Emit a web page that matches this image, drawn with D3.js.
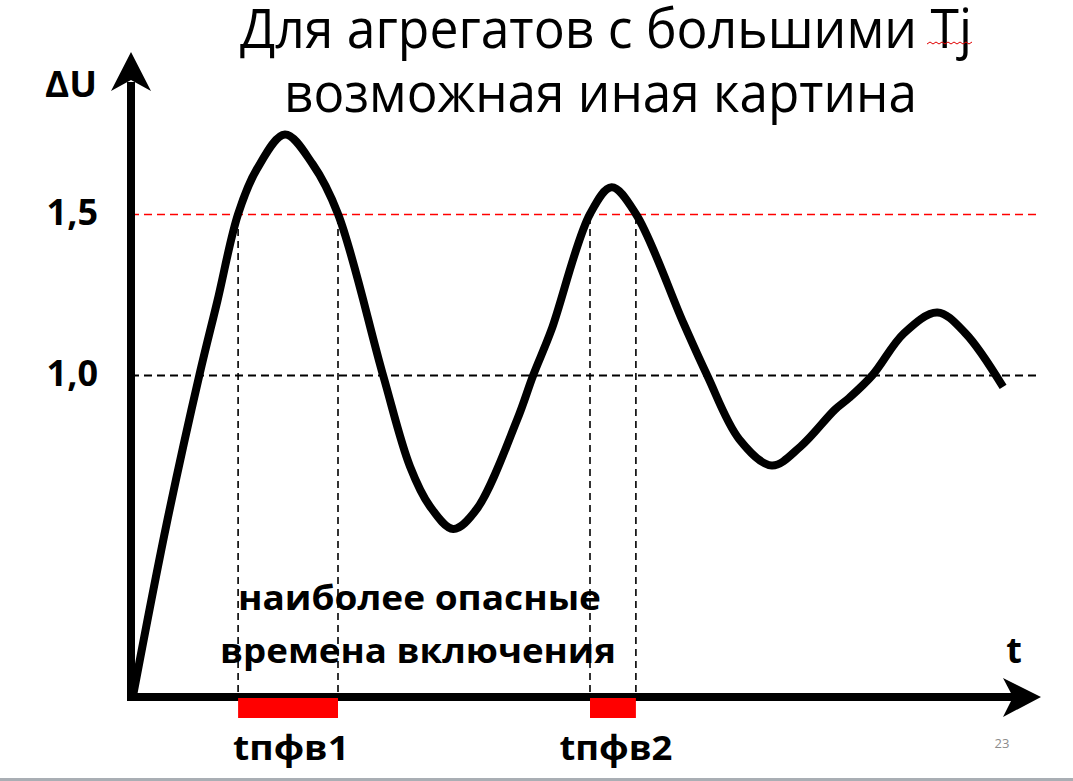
<!DOCTYPE html>
<html>
<head>
<meta charset="utf-8">
<script src="https://cdn.jsdelivr.net/npm/d3@7"></script>
<style>
  html, body { margin: 0; padding: 0; background: #fff; }
  svg { display: block; }
  .bold { font-family: "Open Sans", "DejaVu Sans", sans-serif; font-weight: 700; fill: #000; }
  .title { font-family: "Open Sans", "DejaVu Sans", sans-serif; font-weight: 400; fill: #000; }
</style>
</head>
<body>
<div id="chart"></div>
<script>
// curve: t in arbitrary time units, u = ΔU
var tData = [0.2, 3.9, 7.6, 9.6, 11.9, 14.0, 17.1, 20.2, 23.0, 28.0, 31.0, 33.2, 35.8, 38.4,
             42.9, 44.7, 46.7, 51.0, 53.4, 56.1, 61.4, 64.0, 67.6, 71.2, 74.4, 78.2, 79.8, 82.4,
             85.9, 89.6, 92.7, 96.9]
var uData = [0.0, 0.53, 1.0, 1.23, 1.5, 1.64, 1.747, 1.654, 1.5, 1.0, 0.716, 0.593, 0.522, 0.583,
             0.861, 1.0, 1.139, 1.5, 1.583, 1.5, 1.16, 1.0, 0.80, 0.719, 0.778, 0.892, 0.929, 1.0,
             1.13, 1.194, 1.13, 0.963]

var yTicks       = [1.0, 1.5],
    yTickLabels  = ["1,0", "1,5"],
    crossTimes   = [11.9, 23.0, 51.0, 56.1],   // where the curve crosses 1,5
    windowLabels = ["tпфв1", "tпфв2"],
    titleLines   = ["Для агрегатов с большими Tj", "возможная иная картина"],
    noteLines    = ["наиболее опасные", "времена включения"]

var W = 1073, H = 781

var svg = d3.select("#chart").append("svg")
  .attr("width", W)
  .attr("height", H)

var x = d3.scaleLinear().domain([0, 100]).range([131, 1031]),
    y = d3.scaleLinear().domain([0, 1]).range([697, 375])

var pts = tData.map((t, i) => ({ t: t, u: uData[i] }))

// title
svg.selectAll("text.title")
  .data(titleLines)
  .enter().append("text")
  .attr("class", "title")
  .attr("x", (d, i) => i == 0 ? 240 : 284)
  .attr("y", (d, i) => i == 0 ? 48 : 112)
  .attr("font-size", 54)
  .attr("textLength", (d, i) => i == 0 ? 732 : 633)
  .attr("lengthAdjust", "spacingAndGlyphs")
  .text(d => d)

// spell-check squiggle under "Tj"
var sq = d3.path()
sq.moveTo(927, 44)
for (var k = 0; k < 15; k++) sq.lineTo(930 + k * 3, k % 2 ? 44 : 42)
svg.append("path").attr("d", sq.toString()).attr("fill", "none")
  .attr("stroke", "#e00000").attr("stroke-width", 1)

// horizontal dashed levels via the axis generator
var yAxis = d3.axisLeft(y)
  .tickValues(yTicks)
  .tickFormat((d, i) => yTickLabels[i])
  .tickSize(-(x(100) + 5 - x(0)))
  .tickPadding(33)

var gy = svg.append("g")
  .attr("transform", "translate(" + x(0) + ",0)")
  .call(yAxis)

gy.select(".domain").remove()
gy.selectAll(".tick line")
  .attr("stroke", d => d == 1.5 ? "#ff0000" : "#000")
  .attr("stroke-width", d => d == 1.5 ? 1.6 : 1.8)
  .attr("stroke-dasharray", "8,5")
gy.selectAll(".tick text")
  .attr("class", "bold")
  .attr("font-size", 36)
  .attr("dy", "0.3em")

// vertical dashed drops from the crossings
svg.selectAll("line.drop")
  .data(crossTimes)
  .enter().append("line")
  .attr("class", "drop")
  .attr("x1", d => x(d)).attr("x2", d => x(d))
  .attr("y1", y(1.5) + 3).attr("y2", y(0))
  .attr("stroke", "#000")
  .attr("stroke-width", 1.6)
  .attr("stroke-dasharray", "7,5")

// curve
var line = d3.line()
  .x(d => x(d.t))
  .y(d => y(d.u))
  .curve(d3.curveCatmullRom.alpha(0.5))

svg.append("path")
  .datum(pts)
  .attr("fill", "none")
  .attr("stroke", "#000")
  .attr("stroke-width", 8)
  .attr("stroke-linejoin", "round")
  .attr("d", line)

// axes with arrow heads
var x0 = x(0), y0 = y(0)
svg.append("line")
  .attr("x1", x0).attr("y1", y0 + 4).attr("x2", x0).attr("y2", 82)
  .attr("stroke", "#000").attr("stroke-width", 8)
svg.append("path")
  .attr("d", "M" + x0 + ",52L" + (x0 - 20) + ",91L" + x0 + ",80L" + (x0 + 20) + ",91Z")
  .attr("fill", "#000")

svg.append("line")
  .attr("x1", x0 - 4).attr("y1", y0).attr("x2", 1015).attr("y2", y0)
  .attr("stroke", "#000").attr("stroke-width", 8)
svg.append("path")
  .attr("d", "M1041," + y0 + "L1003," + (y0 - 19) + "L1013," + y0 + "L1003," + (y0 + 20) + "Z")
  .attr("fill", "#000")

// red danger windows on the time axis
var windows = d3.range(0, crossTimes.length, 2).map(i => [crossTimes[i], crossTimes[i + 1]])

svg.selectAll("rect.win")
  .data(windows)
  .enter().append("rect")
  .attr("class", "win")
  .attr("x", d => x(d[0]))
  .attr("y", y0 + 1)
  .attr("width", d => x(d[1]) - x(d[0]))
  .attr("height", 20)
  .attr("fill", "#ff0000")

svg.selectAll("text.win")
  .data(windows)
  .enter().append("text")
  .attr("class", "bold")
  .attr("x", d => x((d[0] + d[1]) / 2) + 3)
  .attr("y", 760)
  .attr("text-anchor", "middle")
  .attr("font-size", 34)
  .attr("textLength", (d, i) => i == 0 ? 116 : 113)
  .attr("lengthAdjust", "spacingAndGlyphs")
  .text((d, i) => windowLabels[i])

// labels
svg.append("text").attr("class", "bold")
  .attr("x", 45).attr("y", 97)
  .attr("font-size", 36)
  .attr("textLength", 52).attr("lengthAdjust", "spacingAndGlyphs")
  .text("ΔU")

svg.append("text").attr("class", "bold")
  .attr("x", 1014).attr("y", 663)
  .attr("text-anchor", "middle")
  .attr("font-size", 36)
  .text("t")

svg.selectAll("text.note")
  .data(noteLines)
  .enter().append("text")
  .attr("class", "bold")
  .attr("x", (d, i) => i == 0 ? 238 : 220)
  .attr("y", (d, i) => i == 0 ? 610 : 663)
  .attr("font-size", 34)
  .attr("textLength", (d, i) => i == 0 ? 363 : 396)
  .attr("lengthAdjust", "spacingAndGlyphs")
  .text(d => d)

// slide number and bottom rule
svg.append("text")
  .attr("x", 1002).attr("y", 748)
  .attr("text-anchor", "middle")
  .attr("font-family", "Open Sans, sans-serif")
  .attr("font-size", 13)
  .attr("fill", "#8c8c8c")
  .text("23")

svg.append("rect")
  .attr("x", 0).attr("y", 778)
  .attr("width", W).attr("height", 3)
  .attr("fill", "#a9aeb4")
</script>
</body>
</html>
